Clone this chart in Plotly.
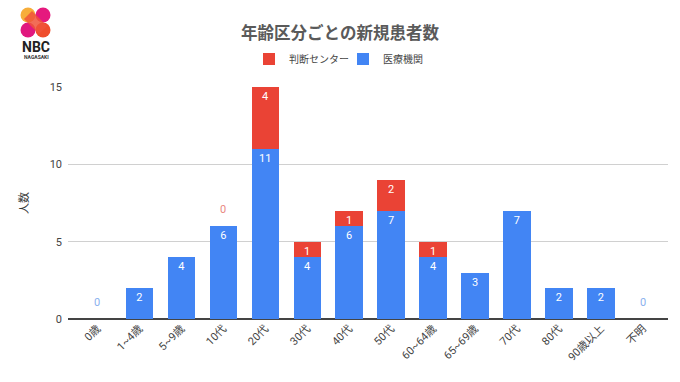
import plotly.graph_objects as go

categories = ["0歳", "1~4歳", "5~9歳", "10代", "20代", "30代", "40代", "50代",
              "60~64歳", "65~69歳", "70代", "80代", "90歳以上", "不明"]
iryo = [0, 2, 4, 6, 11, 4, 6, 7, 4, 3, 7, 2, 2, 0]          # 医療機関
handan = [0, 0, 0, 0, 4, 1, 1, 2, 1, 0, 0, 0, 0, 0]         # 判断センター
handan_zero_shown = ["10代"]                                # red 0 label shown only here
y_ticks = [0, 5, 10, 15]

BLUE = "#4285f4"
RED = "#ea4335"
FONT = "Roboto, 'Noto Sans CJK JP', sans-serif"

iryo_text = [str(v) if v > 0 else "" for v in iryo]
handan_text = [str(v) if v > 0 else "" for v in handan]

fig = go.Figure()
common = dict(textposition="inside", insidetextanchor="end", textangle=0,
              constraintext="none", width=0.65, hoverinfo="skip", marker_line_width=0,
              insidetextfont=dict(color="white", size=11, family=FONT))
fig.add_trace(go.Bar(x=categories, y=iryo, name="医療機関", marker_color=BLUE,
                     text=iryo_text, **common))
fig.add_trace(go.Bar(x=categories, y=handan, name="判断センター", marker_color=RED,
                     text=handan_text, **common))

# plot area in pixels
L, R, T, B = 68, 12, 87, 63
W, H = 680, 382
PW, PH = W - L - R, H - T - B


def px(x):
    return (x - L) / PW


def py(y):
    return (H - B - y) / PH


annotations = []
# zero-value labels placed above the stack top
for c, a, b in zip(categories, iryo, handan):
    if a == 0:
        annotations.append(dict(x=c, y=a, xref="x", yref="y", text="0", showarrow=False,
                                yshift=17, font=dict(size=11, color="#8ab0ee", family=FONT)))
    if b == 0 and c in handan_zero_shown:
        annotations.append(dict(x=c, y=a + b, xref="x", yref="y", text="0", showarrow=False,
                                yshift=17, font=dict(size=11, color="#e9897f", family=FONT)))

shapes = []
# logo circles
for cx, cy, col in [(28, 15, "#f7ad3a"), (43, 15, "#e5197e"), (28, 30, "#e0187f"), (43, 30, "#ef4d2c")]:
    r = 7.5
    shapes.append(dict(type="circle", xref="paper", yref="paper",
                       x0=px(cx - r), x1=px(cx + r), y0=py(cy + r), y1=py(cy - r),
                       fillcolor=col, line_width=0, layer="above"))
shapes.append(dict(type="path", xref="paper", yref="paper",
                   path=f"M {px(24)} {py(19)} L {px(32)} {py(11)} L {px(47)} {py(26)} L {px(39)} {py(34)} Z",
                   fillcolor="#f0543a", line_width=0, layer="above", opacity=0.85))

annotations += [
    dict(text="<b>NBC</b>", x=px(36), y=py(47), xref="paper", yref="paper", showarrow=False,
         font=dict(size=14, color="#222", family="Roboto, sans-serif"), xanchor="center", yanchor="middle"),
    dict(text="<b>NAGASAKI</b>", x=px(36), y=py(57.5), xref="paper", yref="paper", showarrow=False,
         font=dict(size=5, color="#333", family="Roboto, sans-serif"), xanchor="center", yanchor="middle"),
]

fig.update_layout(
    width=W, height=H, barmode="stack",
    margin=dict(l=L, r=R, t=T, b=B, pad=0),
    paper_bgcolor="white", plot_bgcolor="white",
    font=dict(family=FONT, size=11, color="#444"),
    title=dict(text="<b>年齢区分ごとの新規患者数</b>", x=0.5, xref="container", xanchor="center",
               y=1 - 33 / H, yref="container", yanchor="middle",
               font=dict(size=16.5, color="#5a5a5a", family=FONT)),
    legend=dict(orientation="h", x=px(249), xanchor="left",
                y=py(59), yanchor="middle", traceorder="reversed",
                font=dict(size=10, color="#444"), itemwidth=30,
                entrywidth=49, entrywidthmode="pixels"),
    xaxis=dict(type="category", range=[-0.7, 13.6], tickangle=-45, showgrid=False,
               showline=False, ticks="", tickfont=dict(size=11, color="#444")),
    yaxis=dict(range=[0, 15], tickvals=y_ticks, showgrid=True, gridcolor="#d0d0d0", gridwidth=1,
               zeroline=True, zerolinecolor="#444", zerolinewidth=1.5, ticks="",
               tickfont=dict(size=11, color="#444"), ticklabelstandoff=5,
               title=dict(text="人数", font=dict(size=11, color="#333"), standoff=18)),
    shapes=shapes, annotations=annotations,
)

fig.write_html("out.html", config={"displayModeBar": False},
               post_script="document.body.style.margin='0';")
